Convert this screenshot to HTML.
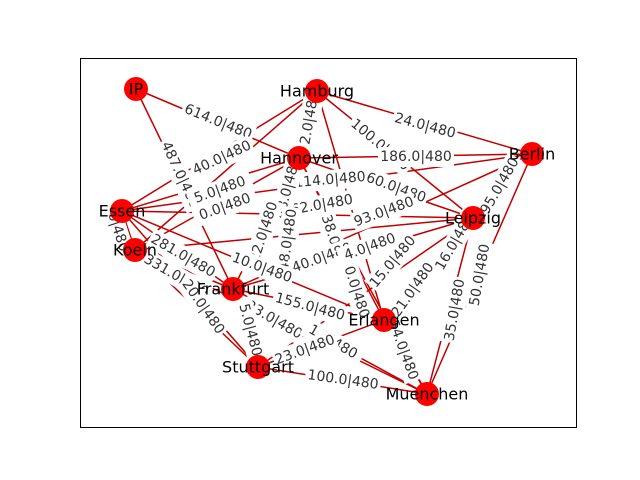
<!DOCTYPE html>
<html><head><meta charset="utf-8"><style>html,body{margin:0;padding:0;background:#fff}svg{display:block}</style></head>
<body>
<svg width="640" height="480" viewBox="0 0 640 480" xmlns="http://www.w3.org/2000/svg">
<rect x="0" y="0" width="640" height="480" fill="#fff"/>
<rect x="80.5" y="58.5" width="496" height="369" fill="none" stroke="#000" stroke-width="1"/>
<g stroke="#c00000" stroke-width="1.5" fill="none">
<line x1="136" y1="89" x2="299" y2="158"/>
<line x1="136" y1="89" x2="233" y2="289"/>
<line x1="317" y1="91" x2="532" y2="154"/>
<line x1="317" y1="91" x2="473" y2="218"/>
<line x1="317" y1="91" x2="299" y2="158"/>
<line x1="317" y1="91" x2="122" y2="211"/>
<line x1="317" y1="91" x2="135" y2="250"/>
<line x1="317" y1="91" x2="384" y2="320"/>
<line x1="299" y1="158" x2="532" y2="154"/>
<line x1="299" y1="158" x2="473" y2="218"/>
<line x1="299" y1="158" x2="122" y2="211"/>
<line x1="299" y1="158" x2="233" y2="289"/>
<line x1="299" y1="158" x2="384" y2="320"/>
<line x1="299" y1="158" x2="427" y2="394"/>
<line x1="299" y1="158" x2="135" y2="250"/>
<line x1="532" y1="154" x2="473" y2="218"/>
<line x1="532" y1="154" x2="384" y2="320"/>
<line x1="532" y1="154" x2="233" y2="289"/>
<line x1="532" y1="154" x2="427" y2="394"/>
<line x1="532" y1="154" x2="122" y2="211"/>
<line x1="473" y1="218" x2="122" y2="211"/>
<line x1="473" y1="218" x2="135" y2="250"/>
<line x1="473" y1="218" x2="233" y2="289"/>
<line x1="473" y1="218" x2="384" y2="320"/>
<line x1="473" y1="218" x2="427" y2="394"/>
<line x1="473" y1="218" x2="258" y2="367"/>
<line x1="122" y1="211" x2="135" y2="250"/>
<line x1="122" y1="211" x2="233" y2="289"/>
<line x1="122" y1="211" x2="384" y2="320"/>
<line x1="122" y1="211" x2="258" y2="367"/>
<line x1="135" y1="250" x2="233" y2="289"/>
<line x1="135" y1="250" x2="258" y2="367"/>
<line x1="135" y1="250" x2="427" y2="394"/>
<line x1="233" y1="289" x2="258" y2="367"/>
<line x1="233" y1="289" x2="384" y2="320"/>
<line x1="233" y1="289" x2="427" y2="394"/>
<line x1="384" y1="320" x2="258" y2="367"/>
<line x1="384" y1="320" x2="427" y2="394"/>
<line x1="258" y1="367" x2="427" y2="394"/>
</g>
<g font-family="DejaVu Sans, sans-serif" font-size="14" fill="#333" text-anchor="middle" dominant-baseline="central">
<g transform="translate(218,122) rotate(22)"><rect x="-38" y="-10" width="76" height="20" fill="#fff"/><text>614.0|480</text></g>
<g transform="translate(222,158) rotate(-25)"><rect x="-33" y="-10" width="66" height="20" fill="#fff"/><text>40.0|480</text></g>
<g transform="translate(180,175) rotate(65)"><rect x="-38" y="-10" width="76" height="20" fill="#fff"/><text>487.0|480</text></g>
<g transform="translate(220,190) rotate(-20)"><rect x="-33" y="-10" width="66" height="20" fill="#fff"/><text>5.0|480</text></g>
<g transform="translate(225,207) rotate(-20)"><rect x="-33" y="-10" width="66" height="20" fill="#fff"/><text>0.0|480</text></g>
<g transform="translate(310,118) rotate(-80)"><rect x="-33" y="-10" width="66" height="20" fill="#fff"/><text>2.0|480</text></g>
<g transform="translate(425,126) rotate(15)"><rect x="-33" y="-10" width="66" height="20" fill="#fff"/><text>24.0|480</text></g>
<g transform="translate(380,145) rotate(40)"><rect x="-38" y="-10" width="76" height="20" fill="#fff"/><text>100.0|480</text></g>
<g transform="translate(416,157)"><rect x="-38" y="-10" width="76" height="20" fill="#fff"/><text>186.0|480</text></g>
<g transform="translate(330,180) rotate(-5)"><rect x="-38" y="-10" width="76" height="20" fill="#fff"/><text>114.0|480</text></g>
<g transform="translate(396,188) rotate(20)"><rect x="-33" y="-10" width="66" height="20" fill="#fff"/><text>60.0|480</text></g>
<g transform="translate(322,205) rotate(-10)"><rect x="-33" y="-10" width="66" height="20" fill="#fff"/><text>62.0|480</text></g>
<g transform="translate(384,212) rotate(-20)"><rect x="-33" y="-10" width="66" height="20" fill="#fff"/><text>93.0|480</text></g>
<g transform="translate(288,188) rotate(-75)"><rect x="-33" y="-10" width="66" height="20" fill="#fff"/><text>48.0|480</text></g>
<g transform="translate(264,232) rotate(-72)"><rect x="-33" y="-10" width="66" height="20" fill="#fff"/><text>22.0|480</text></g>
<g transform="translate(288,240) rotate(-82)"><rect x="-33" y="-10" width="66" height="20" fill="#fff"/><text>48.0|480</text></g>
<g transform="translate(335,245) rotate(72)"><rect x="-33" y="-10" width="66" height="20" fill="#fff"/><text>38.0|480</text></g>
<g transform="translate(355,288) rotate(72)"><rect x="-33" y="-10" width="66" height="20" fill="#fff"/><text>70.0|480</text></g>
<g transform="translate(322,258) rotate(-20)"><rect x="-33" y="-10" width="66" height="20" fill="#fff"/><text>40.0|480</text></g>
<g transform="translate(370,247) rotate(-20)"><rect x="-33" y="-10" width="66" height="20" fill="#fff"/><text>4.0|480</text></g>
<g transform="translate(393,262) rotate(-50)"><rect x="-33" y="-10" width="66" height="20" fill="#fff"/><text>15.0|480</text></g>
<g transform="translate(455,242) rotate(-60)"><rect x="-33" y="-10" width="66" height="20" fill="#fff"/><text>16.0|480</text></g>
<g transform="translate(500,186) rotate(-60)"><rect x="-33" y="-10" width="66" height="20" fill="#fff"/><text>95.0|480</text></g>
<g transform="translate(413,290) rotate(-55)"><rect x="-33" y="-10" width="66" height="20" fill="#fff"/><text>21.0|480</text></g>
<g transform="translate(455,310) rotate(-80)"><rect x="-33" y="-10" width="66" height="20" fill="#fff"/><text>35.0|480</text></g>
<g transform="translate(480,275) rotate(-80)"><rect x="-33" y="-10" width="66" height="20" fill="#fff"/><text>50.0|480</text></g>
<g transform="translate(183,256) rotate(30)"><rect x="-38" y="-10" width="76" height="20" fill="#fff"/><text>281.0|480</text></g>
<g transform="translate(176,276) rotate(30)"><rect x="-38" y="-10" width="76" height="20" fill="#fff"/><text>331.0|480</text></g>
<g transform="translate(262,268) rotate(20)"><rect x="-33" y="-10" width="66" height="20" fill="#fff"/><text>10.0|480</text></g>
<g transform="translate(310,307) rotate(15)"><rect x="-38" y="-10" width="76" height="20" fill="#fff"/><text>155.0|480</text></g>
<g transform="translate(274,320) rotate(30)"><rect x="-33" y="-10" width="66" height="20" fill="#fff"/><text>23.0|480</text></g>
<g transform="translate(333,342) rotate(30)"><rect x="-33" y="-10" width="66" height="20" fill="#fff"/><text>1.0|480</text></g>
<g transform="translate(305,350) rotate(-20)"><rect x="-33" y="-10" width="66" height="20" fill="#fff"/><text>23.0|480</text></g>
<g transform="translate(403,350) rotate(70)"><rect x="-33" y="-10" width="66" height="20" fill="#fff"/><text>54.0|480</text></g>
<g transform="translate(343,380) rotate(8)"><rect x="-38" y="-10" width="76" height="20" fill="#fff"/><text>100.0|480</text></g>
<g transform="translate(250,330) rotate(75)"><rect x="-33" y="-10" width="66" height="20" fill="#fff"/><text>5.0|480</text></g>
<g transform="translate(118,232) rotate(72)"><rect x="-20" y="-10" width="40" height="20" fill="#fff"/><text>0|480</text></g>
<g transform="translate(203,307) rotate(55)"><rect x="-33" y="-10" width="66" height="20" fill="#fff"/><text>20.0|480</text></g>
</g>
<g fill="#f00">
<circle cx="136" cy="89" r="12"/>
<circle cx="317" cy="91" r="12"/>
<circle cx="299" cy="158" r="12"/>
<circle cx="532" cy="154" r="12"/>
<circle cx="122" cy="211" r="12"/>
<circle cx="473" cy="218" r="12"/>
<circle cx="135" cy="250" r="12"/>
<circle cx="233" cy="289" r="12"/>
<circle cx="384" cy="320" r="12"/>
<circle cx="258" cy="367" r="12"/>
<circle cx="427" cy="394" r="12"/>
</g>
<g font-family="DejaVu Sans, sans-serif" font-size="16" fill="#000" text-anchor="middle" dominant-baseline="central">
<text x="136" y="89">IP</text>
<text x="317" y="91">Hamburg</text>
<text x="299" y="158">Hannover</text>
<text x="532" y="154">Berlin</text>
<text x="122" y="211">Essen</text>
<text x="473" y="218">Leipzig</text>
<text x="135" y="250">Koeln</text>
<text x="233" y="289">Frankfurt</text>
<text x="384" y="320">Erlangen</text>
<text x="258" y="367">Stuttgart</text>
<text x="427" y="394">Muenchen</text>
</g>
</svg>
</body></html>
